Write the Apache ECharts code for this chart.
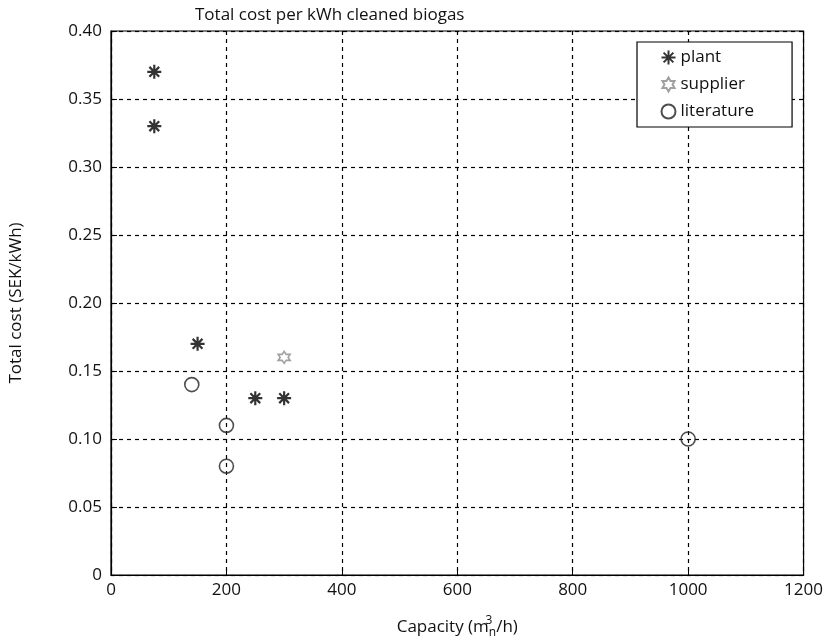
<!DOCTYPE html>
<html>
<head>
<meta charset="utf-8">
<script src="https://cdn.jsdelivr.net/npm/echarts@6/dist/echarts.min.js"></script>
<style>
  html, body { margin: 0; padding: 0; background: #fff; }
  #chart { width: 826px; height: 644px; }
</style>
</head>
<body>
<div id="chart"></div>
<script>
// data: [capacity m3/h, cost SEK/kWh]
const plantData = [[75, 0.37], [75, 0.33], [150, 0.17], [250, 0.13], [300, 0.13]];
const supplierData = [[300, 0.16]];
const literatureData = [[140, 0.14], [200, 0.11], [200, 0.08], [1000, 0.10]];
const seriesNames = ['plant', 'supplier', 'literature'];
const xTicks = [0, 1200, 200]; // min, max, interval
const yTicks = [0, 0.40, 0.05];

const FONT = '"Open Sans", "Noto Sans", sans-serif';
// 8-armed asterisk and outlined six point star
const asterisk = 'path://M0,-1L0,1M-1,0L1,0M-0.7,-0.7L0.7,0.7M-0.7,0.7L0.7,-0.7';
const hexagram = 'path://M0,-1L0.2887,-0.5L0.866,-0.5L0.577,0L0.866,0.5L0.2887,0.5L0,1L-0.2887,0.5L-0.866,0.5L-0.577,0L-0.866,-0.5L-0.2887,-0.5Z';

const chart = echarts.init(document.getElementById('chart'));

const dashedGrid = {
  show: true,
  lineStyle: { color: '#000', type: [4, 4], width: 1.2 }
};

chart.setOption({
  animation: false,
  backgroundColor: '#fff',
  title: {
    text: 'Total cost per kWh cleaned biogas',
    left: 190,
    top: 2,
    textStyle: { fontFamily: FONT, fontSize: 17, fontWeight: 'normal', color: '#111' }
  },
  legend: {
    orient: 'vertical',
    left: 637,
    top: 42,
    data: seriesNames,
    backgroundColor: '#fff',
    borderColor: '#000',
    borderWidth: 1.2,
    borderRadius: 0,
    padding: [6, 38, 6, 22],
    itemGap: 8,
    itemWidth: 14,
    itemHeight: 14,
    textStyle: { fontFamily: FONT, fontSize: 17, lineHeight: 19, color: '#111' }
  },
  grid: {
    left: 111,
    right: 21,
    top: 31,
    bottom: 65,
    show: true,
    borderColor: '#000',
    borderWidth: 1.2
  },
  xAxis: {
    type: 'value',
    min: xTicks[0],
    max: xTicks[1],
    interval: xTicks[2],
    name: 'Capacity (m{sup|3}{sub|n}/h)',
    nameLocation: 'middle',
    nameGap: 40,
    nameTextStyle: {
      fontFamily: FONT, fontSize: 17, color: '#111',
      rich: {
        sup: { fontFamily: FONT, fontSize: 12, color: '#111', verticalAlign: 'top', width: 0, align: 'left', lineHeight: 24 },
        sub: { fontFamily: FONT, fontSize: 12, color: '#111', verticalAlign: 'bottom', lineHeight: 24 }
      }
    },
    axisLine: { show: true, lineStyle: { color: '#000', width: 1.2 } },
    axisTick: { show: true, inside: true, length: 6, lineStyle: { color: '#000' } },
    axisLabel: { fontFamily: FONT, fontSize: 17, color: '#111', margin: 7, formatter: v => String(v) },
    splitLine: dashedGrid
  },
  yAxis: {
    type: 'value',
    min: yTicks[0],
    max: yTicks[1],
    interval: yTicks[2],
    name: 'Total cost (SEK/kWh)',
    nameLocation: 'middle',
    nameGap: 86,
    nameTextStyle: { fontFamily: FONT, fontSize: 17, color: '#111' },
    axisLine: { show: true, lineStyle: { color: '#000', width: 1.2 } },
    axisTick: { show: true, inside: true, length: 6, lineStyle: { color: '#000' } },
    axisLabel: {
      fontFamily: FONT, fontSize: 17, color: '#111', margin: 9,
      formatter: v => (v === 0 ? '0' : v.toFixed(2))
    },
    splitLine: dashedGrid
  },
  series: [
    {
      name: seriesNames[0],
      type: 'scatter',
      data: plantData,
      symbol: asterisk,
      symbolSize: 14,
      itemStyle: { color: 'none', borderColor: '#000', borderWidth: 2.2 }
    },
    {
      name: seriesNames[1],
      type: 'scatter',
      data: supplierData,
      symbol: hexagram,
      symbolSize: 12,
      itemStyle: { color: 'none', borderColor: '#888', borderWidth: 1.6 }
    },
    {
      name: seriesNames[2],
      type: 'scatter',
      data: literatureData,
      symbol: 'circle',
      symbolSize: 14,
      itemStyle: { color: 'none', borderColor: '#222', borderWidth: 1.6 }
    }
  ]
});
</script>
</body>
</html>
